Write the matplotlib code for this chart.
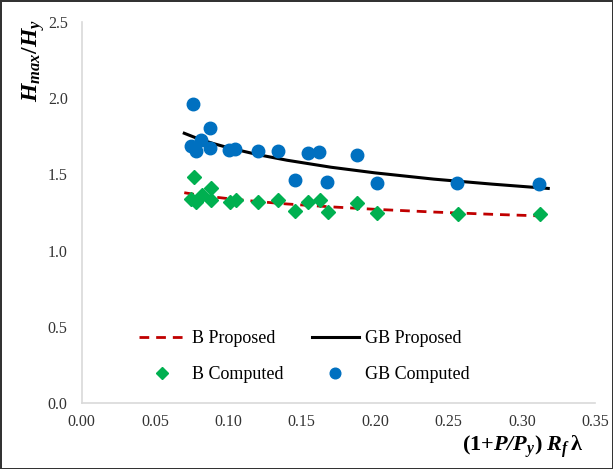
import matplotlib.pyplot as plt

plt.rcParams['font.family'] = ['Liberation Serif', 'DejaVu Serif']
plt.rcParams['mathtext.fontset'] = 'custom'
plt.rcParams['mathtext.rm'] = 'Liberation Serif'
plt.rcParams['mathtext.it'] = 'Liberation Serif:italic'
plt.rcParams['mathtext.bf'] = 'Liberation Serif:bold'
plt.rcParams['mathtext.bfit'] = 'Liberation Serif:bold:italic'

# computed points: GB (blue circles) and B (green diamonds)
gb_x = [0.0759, 0.0748, 0.0779, 0.0816, 0.0876, 0.0876, 0.1007, 0.1045, 0.1203,
        0.1336, 0.1453, 0.1543, 0.1620, 0.1674, 0.1876, 0.2011, 0.2561, 0.3120]
gb_y = [1.959, 1.684, 1.654, 1.726, 1.806, 1.673, 1.662, 1.669, 1.654,
        1.654, 1.461, 1.638, 1.645, 1.451, 1.630, 1.446, 1.444, 1.435]
b_x = [0.0766, 0.0748, 0.0782, 0.0818, 0.0883, 0.0883, 0.1011, 0.1052, 0.1205,
       0.1340, 0.1457, 0.1545, 0.1626, 0.1678, 0.1880, 0.2014, 0.2563, 0.3124]
b_y = [1.481, 1.340, 1.317, 1.366, 1.409, 1.330, 1.320, 1.330, 1.320,
       1.329, 1.263, 1.322, 1.332, 1.255, 1.315, 1.248, 1.239, 1.239]

# proposed curves
curve_x = [0.070, 0.080, 0.090, 0.100, 0.120, 0.140, 0.170, 0.200, 0.240, 0.280, 0.318]
gb_prop = [1.770, 1.732, 1.702, 1.675, 1.630, 1.593, 1.547, 1.510, 1.469, 1.436, 1.408]
b_prop = [1.380, 1.364, 1.352, 1.341, 1.322, 1.306, 1.287, 1.271, 1.253, 1.238, 1.226]

fig = plt.figure(figsize=(6.13, 4.69), dpi=100, edgecolor='#333333', linewidth=2)
ax = fig.add_axes([0.1330, 0.1407, 0.8380, 0.8124])

l_b, = ax.plot(curve_x, b_prop, '--', color='#C00000', lw=2, dashes=(3.5, 2.5), label='B Proposed')
l_gb, = ax.plot(curve_x, gb_prop, '-', color='black', lw=2.2, label='GB Proposed')
m_b, = ax.plot(b_x, b_y, 'D', color='#00B050', ms=7, mec='#00B050', ls='none', label='B Computed')
m_gb, = ax.plot(gb_x, gb_y, 'o', color='#0070C0', ms=9, mec='#0070C0', ls='none', label='GB Computed')

ax.set_xlim(0, 0.35)
ax.set_ylim(0, 2.5)
ax.set_xticks([0.00, 0.05, 0.10, 0.15, 0.20, 0.25, 0.30, 0.35])
ax.set_xticklabels(['0.00', '0.05', '0.10', '0.15', '0.20', '0.25', '0.30', '0.35'])
ax.set_yticks([0.0, 0.5, 1.0, 1.5, 2.0, 2.5])
ax.set_yticklabels(['0.0', '0.5', '1.0', '1.5', '2.0', '2.5'])
ax.tick_params(length=0, labelsize=11.5, colors='#333333', pad=8)
ax.tick_params(axis='y', pad=10)

for s in ['top', 'right']:
    ax.spines[s].set_visible(False)
for s in ['left', 'bottom']:
    ax.spines[s].set_color('#d9d9d9')
    ax.spines[s].set_linewidth(1.2)

# two rows: proposed curves on top, computed points below
handles = [l_b, m_b, l_gb, m_gb]
leg = ax.legend(handles, [h.get_label() for h in handles], loc='lower left',
                bbox_to_anchor=(0.08, 0.01), ncol=2, frameon=False,
                fontsize=13, handlelength=2.6, columnspacing=1.55, labelspacing=1.05,
                handletextpad=0.35, markerscale=0.85)

fig.text(0.054, 0.872, r'$\mathbfit{H}_{\mathbfit{max}}\mathbf{/}\mathbfit{H}_{\mathbfit{y}}$',
         rotation=90, ha='center', va='center', fontsize=17)
fig.text(0.952, 0.047,
         r'$\mathbf{(1{+}}\mathbfit{P/P}_{\mathbfit{y}}\mathbf{)}\ \mathbfit{R}_{\mathbfit{f}}\,\mathbf{λ}$',
         ha='right', va='center', fontsize=16)

fig.savefig('out.png', dpi=100, edgecolor=fig.get_edgecolor())
